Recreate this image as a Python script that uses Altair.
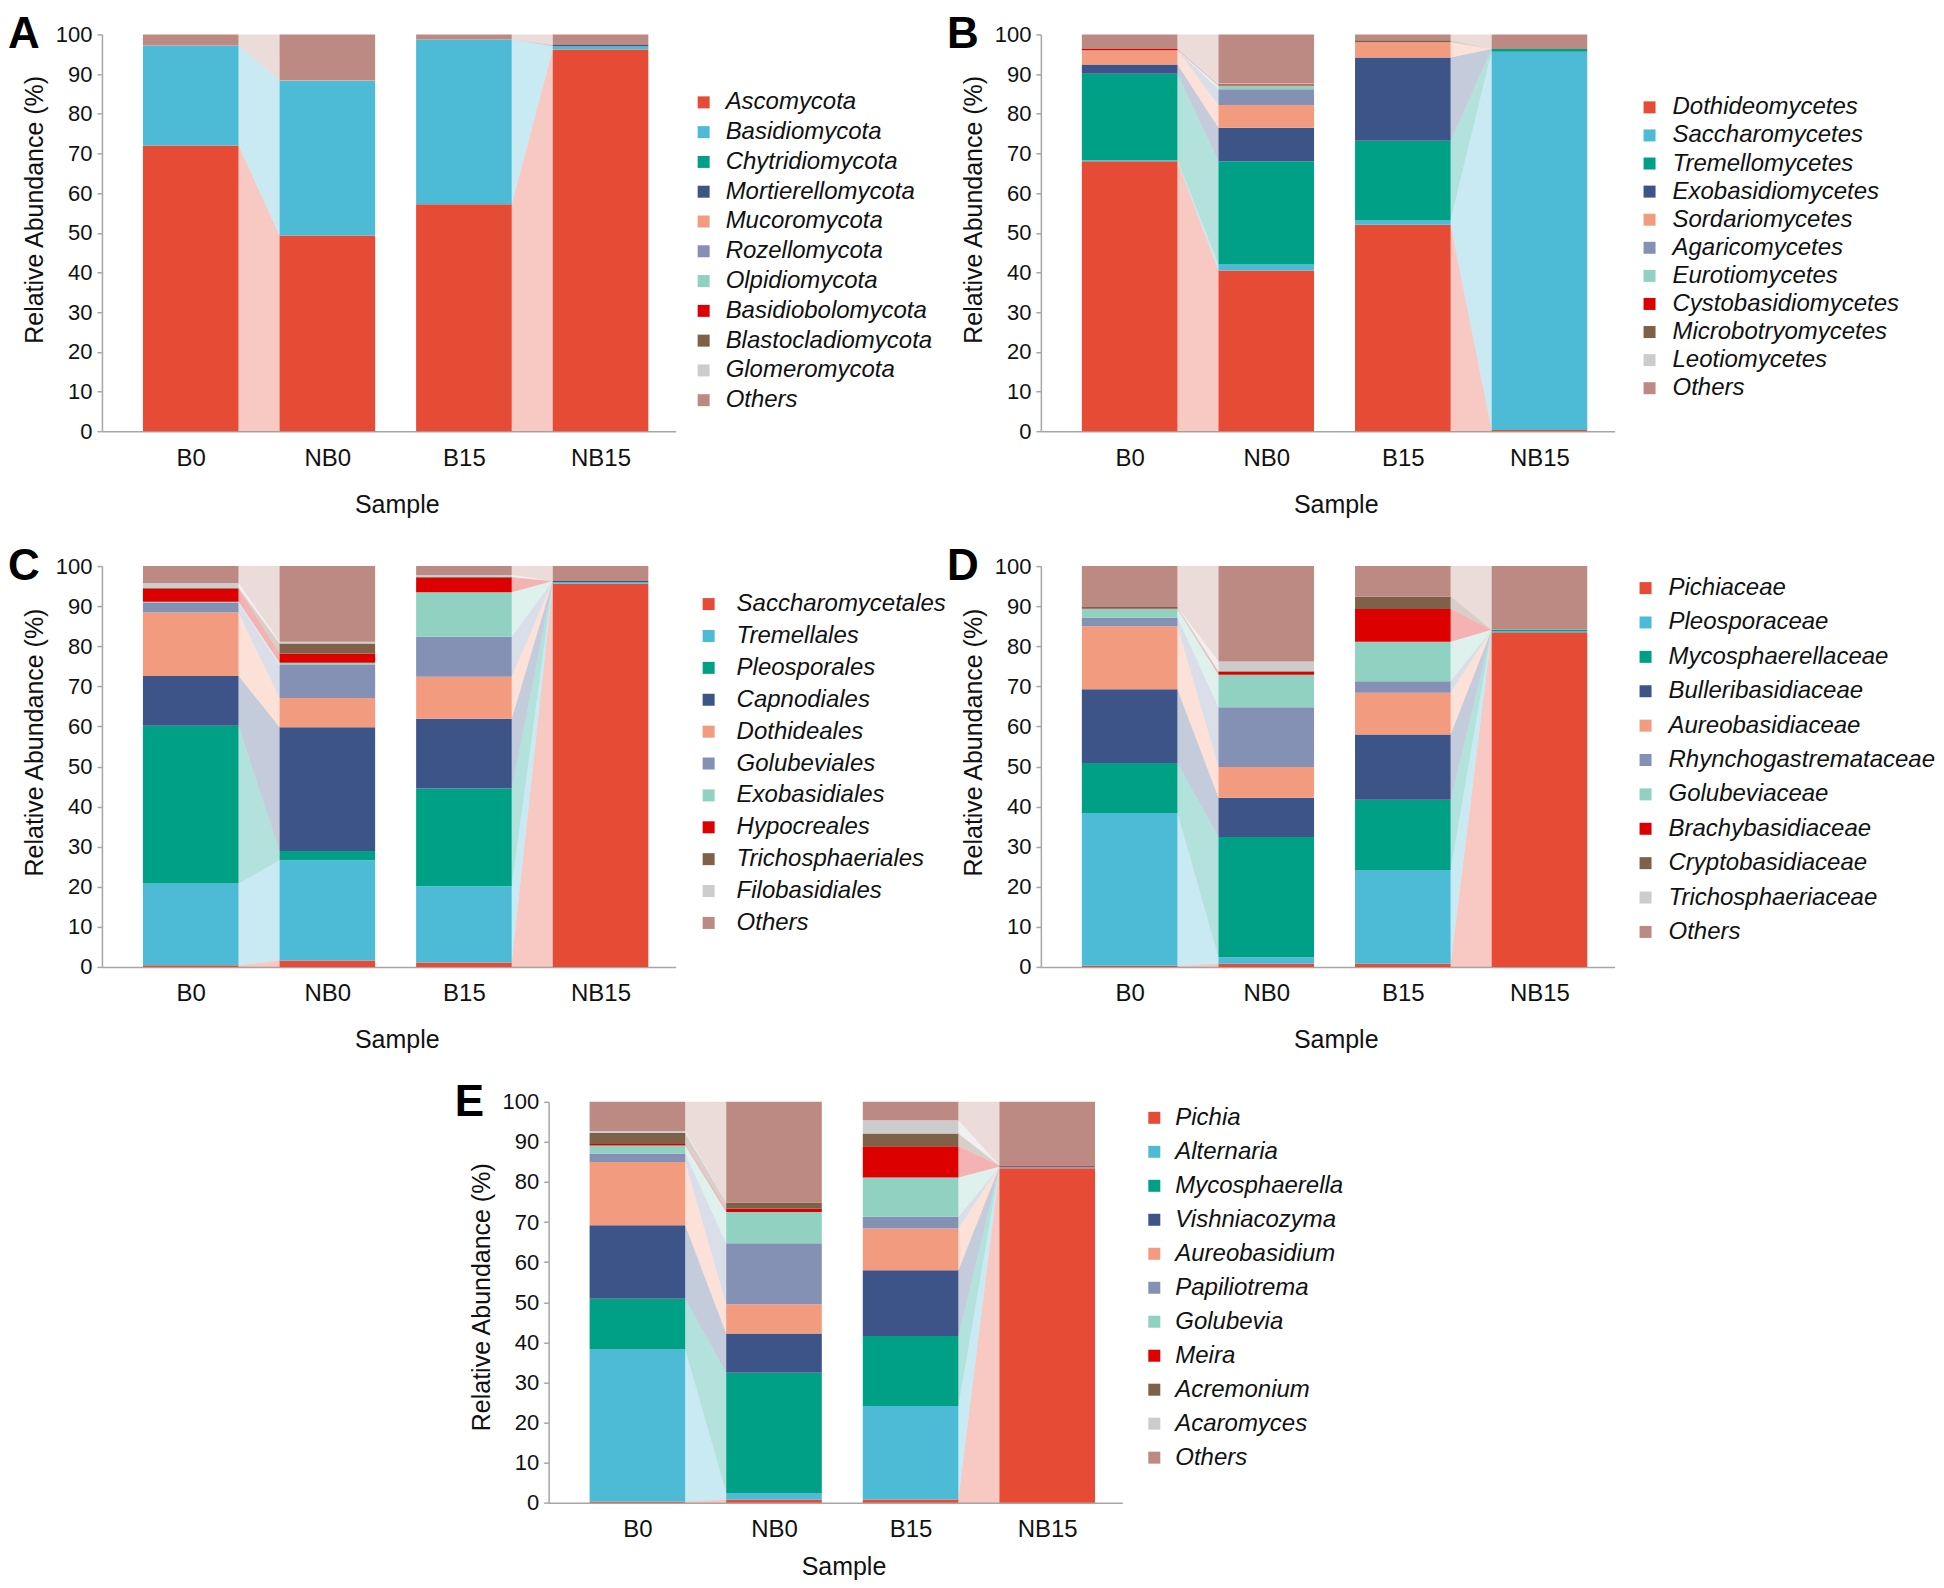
import altair as alt
import pandas as pd

FONT = "Liberation Sans"
SAMPLES = ["B0", "NB0", "B15", "NB15"]
COLORS = ["#E64B35", "#4DBBD5", "#00A087", "#3C5488", "#F39B7F", "#8491B4",
          "#91D1C2", "#DC0000", "#7E6148", "#CCCCCC", "#BC8A83"]

# ---- Panel A (phylum) ----
A_TAXA = ["Ascomycota", "Basidiomycota", "Chytridiomycota", "Mortierellomycota",
          "Mucoromycota", "Rozellomycota", "Olpidiomycota", "Basidiobolomycota",
          "Blastocladiomycota", "Glomeromycota", "Others"]
A_B0 = [72.0, 25.2, 0, 0, 0, 0, 0, 0, 0, 0, 2.8]
A_NB0 = [49.3, 39.0, 0.1, 0, 0.1, 0, 0, 0, 0, 0, 11.5]
A_B15 = [57.2, 41.5, 0, 0, 0, 0, 0, 0, 0, 0, 1.3]
A_NB15 = [96.2, 0.8, 0, 0.3, 0, 0, 0, 0, 0, 0, 2.7]

# ---- Panel B (class) ----
B_TAXA = ["Dothideomycetes", "Saccharomycetes", "Tremellomycetes", "Exobasidiomycetes",
          "Sordariomycetes", "Agaricomycetes", "Eurotiomycetes", "Cystobasidiomycetes",
          "Microbotryomycetes", "Leotiomycetes", "Others"]
B_B0 = [68.0, 0.3, 21.8, 2.3, 3.6, 0, 0, 0.3, 0, 0, 3.7]
B_NB0 = [40.5, 1.5, 26.0, 8.5, 5.7, 4.0, 0.9, 0.3, 0.1, 0.1, 12.4]
B_B15 = [52.0, 1.2, 20.0, 21.0, 3.8, 0, 0, 0, 0.5, 0, 1.5]
B_NB15 = [0.3, 95.3, 0.7, 0, 0, 0, 0, 0, 0, 0, 3.7]

# ---- Panel C (order) ----
C_TAXA = ["Saccharomycetales", "Tremellales", "Pleosporales", "Capnodiales",
          "Dothideales", "Golubeviales", "Exobasidiales", "Hypocreales",
          "Trichosphaeriales", "Filobasidiales", "Others"]
C_B0 = [0.4, 20.4, 39.4, 12.4, 15.8, 2.4, 0.3, 3.3, 0.2, 1.2, 4.2]
C_NB0 = [1.6, 25.0, 2.3, 30.9, 7.3, 8.2, 0.6, 2.3, 2.5, 0.4, 18.9]
C_B15 = [1.1, 19.0, 24.4, 17.4, 10.5, 10.0, 11.1, 3.6, 0.2, 0.5, 2.2]
C_NB15 = [95.6, 0.4, 0, 0.3, 0, 0, 0, 0, 0, 0, 3.7]

# ---- Panel D (family) ----
D_TAXA = ["Pichiaceae", "Pleosporaceae", "Mycosphaerellaceae", "Bulleribasidiaceae",
          "Aureobasidiaceae", "Rhynchogastremataceae", "Golubeviaceae",
          "Brachybasidiaceae", "Cryptobasidiaceae", "Trichosphaeriaceae", "Others"]
D_B0 = [0.3, 38.1, 12.5, 18.4, 15.7, 2.2, 2.1, 0.1, 0.4, 0, 10.2]
D_NB0 = [0.8, 1.6, 30.0, 9.8, 7.7, 14.9, 8.1, 0.7, 0.2, 2.4, 23.8]
D_B15 = [0.8, 23.4, 17.5, 16.3, 10.4, 2.9, 9.8, 8.2, 3.1, 0, 7.6]
D_NB15 = [83.5, 0.3, 0.3, 0, 0, 0, 0, 0, 0, 0, 15.9]

# ---- Panel E (genus) ----
E_TAXA = ["Pichia", "Alternaria", "Mycosphaerella", "Vishniacozyma", "Aureobasidium",
          "Papiliotrema", "Golubevia", "Meira", "Acremonium", "Acaromyces", "Others"]
E_B0 = [0.3, 37.9, 12.7, 18.3, 15.8, 2.1, 2.0, 0.4, 2.8, 0.4, 7.3]
E_NB0 = [0.8, 1.6, 30.0, 9.8, 7.3, 15.2, 7.8, 0.8, 1.6, 0, 25.1]
E_B15 = [0.8, 23.3, 17.5, 16.4, 10.4, 2.9, 9.8, 7.8, 3.2, 3.3, 4.6]
E_NB15 = [83.4, 0.4, 0, 0, 0, 0, 0, 0.3, 0, 0, 15.9]

HALF = 0.35
PAIRS = [(0, 1), (2, 3)]
PLOT_W = 574
AXIS_GRAY = "#A6A6A6"
LABEL_EXPR = "[" + ",".join("'%s'" % s for s in SAMPLES) + "][datum.value]"


def cumulate(vals):
    lo, hi, c = [], [], 0.0
    for v in vals:
        lo.append(c)
        c += v
        hi.append(c)
    return lo, hi


def panel(letter, taxa, sample_vals, height, lx, ly, row_pad, lab_off, title_y,
          ytitle_y, shift=0):
    bars, links = [], []
    cums = [cumulate(v) for v in sample_vals]
    for i, vals in enumerate(sample_vals):
        lo, hi = cums[i]
        for k, t in enumerate(taxa):
            if vals[k] > 0:
                bars.append({"taxon": t, "x0": i - HALF, "x1": i + HALF,
                             "y0": lo[k], "y1": hi[k]})
    for a, b in PAIRS:
        for k, t in enumerate(taxa):
            if sample_vals[a][k] == 0 and sample_vals[b][k] == 0:
                continue
            lid = "%d-%d" % (a, k)
            links.append({"taxon": t, "link": lid, "x": a + HALF,
                          "lo": cums[a][0][k], "hi": cums[a][1][k]})
            links.append({"taxon": t, "link": lid, "x": b - HALF,
                          "lo": cums[b][0][k], "hi": cums[b][1][k]})

    xscale = alt.Scale(domain=[-0.65, 3.55], nice=False, zero=False,
                       range=[shift, shift + PLOT_W])
    yscale = alt.Scale(domain=[0, 100], nice=False, zero=True)
    xaxis = alt.Axis(values=[0, 1, 2, 3], labelExpr=LABEL_EXPR, ticks=False,
                     domainColor=AXIS_GRAY, domainWidth=1.5, labelFont=FONT,
                     labelFontSize=24, labelColor="#111111", labelPadding=15,
                     grid=False, title="Sample", titleFont=FONT, titleFontSize=25,
                     titleFontWeight="normal", titleColor="#111111",
                     titleBaseline="top", titleAlign="center",
                     titleX=shift + 295, titleY=title_y)
    yaxis = alt.Axis(values=list(range(0, 101, 10)), tickSize=5, tickColor=AXIS_GRAY,
                     domainColor=AXIS_GRAY, domainWidth=1.5, tickWidth=1.5,
                     labelFont=FONT, labelFontSize=22, labelColor="#111111",
                     labelPadding=5, grid=False, offset=-shift,
                     title="Relative Abundance (%)", titleFont=FONT, titleFontSize=25,
                     titleFontWeight="normal", titleColor="#111111", titleAngle=270,
                     titleBaseline="middle", titleAlign="center",
                     titleX=-67, titleY=ytitle_y)
    color = alt.Color("taxon:N", scale=alt.Scale(domain=taxa, range=COLORS),
                      legend=alt.Legend(orient="none", legendX=lx + shift,
                                        legendY=ly,
                                        title=None, symbolType="square",
                                        symbolSize=144, symbolStrokeWidth=0,
                                        symbolOpacity=1, labelFont=FONT,
                                        labelFontSize=24, labelFontStyle="italic",
                                        labelColor="#111111", rowPadding=row_pad,
                                        labelOffset=lab_off, labelLimit=400,
                                        padding=0))

    rects = alt.Chart(pd.DataFrame(bars)).mark_rect().encode(
        x=alt.X("x0:Q", scale=xscale, axis=xaxis),
        x2="x1:Q",
        y=alt.Y("y0:Q", scale=yscale, axis=yaxis),
        y2="y1:Q",
        color=color,
    )
    areas = alt.Chart(pd.DataFrame(links)).mark_area(
        opacity=0.3, interpolate="linear").encode(
        x=alt.X("x:Q", scale=xscale, axis=xaxis),
        y=alt.Y("lo:Q", scale=yscale, axis=yaxis),
        y2="hi:Q",
        color=color,
        detail="link:N",
    )
    tag = alt.Chart(pd.DataFrame({"label": [letter]})).mark_text(
        align="left", baseline="top", font=FONT, fontSize=44, fontWeight="bold",
        color="black").encode(text="label:N", x=alt.value(-94 + shift),
                              y=alt.value(-21))
    return alt.layer(rects, areas, tag).properties(width=PLOT_W, height=height)


pA = panel("A", A_TAXA, [A_B0, A_NB0, A_B15, A_NB15], 397, 590, 56, 5.8, 10, 61, 175)
pB = panel("B", B_TAXA, [B_B0, B_NB0, B_B15, B_NB15], 397, 597, 61, 4.1, 11, 61, 175)
pC = panel("C", C_TAXA, [C_B0, C_NB0, C_B15, C_NB15], 401, 595, 26, 7.9, 16, 61, 176)
pD = panel("D", D_TAXA, [D_B0, D_NB0, D_B15, D_NB15], 401, 593, 10, 10.4, 11, 61, 176)
# panel E sits in the right column of the grid, drawn shifted left to the centre
pE = panel("E", E_TAXA, [E_B0, E_NB0, E_B15, E_NB15], 401, 594, 4, 10.0, 9, 52, 195,
           shift=-492.5)

spacer = alt.Chart(pd.DataFrame({"a": [0]})).mark_point(opacity=0).encode(
    x=alt.value(0), y=alt.value(0)).properties(width=PLOT_W, height=401)

chart = alt.concat(pA, pB, pC, pD, spacer, pE, columns=2,
                   spacing={"row": 135, "column": 365.4}, bounds="flush") \
    .resolve_scale(color="independent", x="independent", y="independent") \
    .resolve_legend(color="independent") \
    .properties(padding={"top": 5, "left": 0, "right": 0, "bottom": 0},
                background="white") \
    .configure_view(strokeWidth=0)

chart.save("out.html", embed_options={"renderer": "svg", "actions": False})
